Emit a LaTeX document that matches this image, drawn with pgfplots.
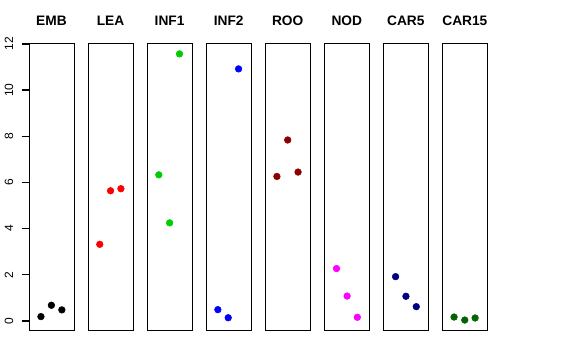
\documentclass[border=0pt]{standalone}
\usepackage{pgfplots}
\pgfplotsset{compat=1.18}
\usepackage{fontspec}
\setmainfont{Liberation Sans}
\definecolor{cEMB}{HTML}{000000}
\definecolor{cLEA}{HTML}{FF0000}
\definecolor{cINF1}{HTML}{00CD00}
\definecolor{cINF2}{HTML}{0000FF}
\definecolor{cROO}{HTML}{8B0000}
\definecolor{cNOD}{HTML}{FF00FF}
\definecolor{cCAR5}{HTML}{000080}
\definecolor{cCAR15}{HTML}{006400}
\pgfplotsset{
  panelbase/.style={
    scale only axis, width=33.75pt, height=215.55pt,
    anchor=south west,
    xmin=0, xmax=4, ymin=-0.42, ymax=12.03,
    xtick=\empty, ytick=\empty,
    axis line style={black, line width=0.75pt},
    title style={at={(0.5,1)}, anchor=base, yshift=7pt, inner sep=0pt,
      font=\bfseries\fontsize{10.3}{12}\selectfont},
    clip=false,
  },
}
\newcommand{\panel}[5]{%
\begin{axis}[panelbase, at={({21.75pt+#1*44.29pt},22pt)}, title={#2}, #5]
\addplot[only marks, mark=*, mark size=2.5pt, color=#3] coordinates {#4};
\end{axis}}
\begin{document}
\begin{tikzpicture}
\path[use as bounding box] (0,0) rectangle (432pt,270pt);
\panel{0}{EMB}{cEMB}{(1.06,0.19) (1.99,0.68) (2.92,0.48)}{}
\begin{axis}[
  scale only axis, width=33.75pt, height=215.55pt,
  anchor=south west, at={(21.75pt,22pt)},
  xmin=0, xmax=4, ymin=-0.42, ymax=12.03, clip=false,
  axis x line=none, axis y line*=left,
  y axis line style={-, black, line width=0.75pt},
  xtick=\empty, ytick={0,2,4,6,8,10,12},
  tick align=outside, major tick length=5.5pt,
  major tick style={black, line width=1pt},
  /pgf/number format/assume math mode=true,
  yticklabel style={rotate=90, anchor=base, inner sep=0pt, yshift=6.5pt,
    font=\fontsize{9}{10}\selectfont},
]
\pgfplotsinvokeforeach{0,2,4,6,8,10,12}{%
  \draw[black, line width=1pt] (axis cs:0,#1) -- ++(-5.5pt,0pt);}
\end{axis}
\panel{1}{LEA}{cLEA}{(1.04,3.32) (2.00,5.64) (2.92,5.73)}{}
\panel{2}{INF1}{cINF1}{(1.04,6.33) (2.00,4.25) (2.88,11.57)}{}
\panel{3}{INF2}{cINF2}{(1.04,0.49) (1.96,0.14) (2.88,10.92)}{}
\panel{4}{ROO}{cROO}{(1.04,6.26) (2.00,7.84) (2.92,6.45)}{}
\panel{5}{NOD}{cNOD}{(1.09,2.27) (2.03,1.08) (2.94,0.16)}{}
\panel{6}{CAR5}{cCAR5}{(1.09,1.92) (2.01,1.07) (2.93,0.62)}{}
\panel{7}{CAR15}{cCAR15}{(1.04,0.17) (1.99,0.04) (2.91,0.13)}{}
\end{tikzpicture}
\end{document}
